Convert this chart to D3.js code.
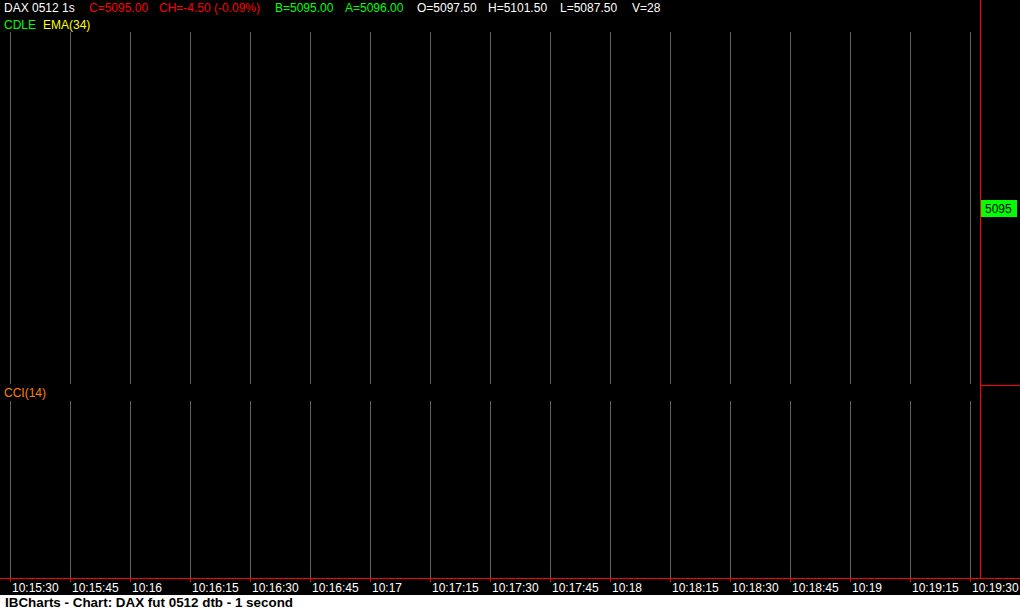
<!DOCTYPE html>
<html><head><meta charset="utf-8">
<script src="https://cdn.jsdelivr.net/npm/d3@7"></script>
<style>
html,body{margin:0;padding:0;background:#fff;}
svg{display:block;}
text{font-family:"Liberation Sans",Arial,sans-serif;}
</style></head>
<body>
<div id="chart"></div>
<script>
// ---- data ----
const tickTimes = ["10:15:30","10:15:45","10:16:00","10:16:15","10:16:30","10:16:45","10:17:00","10:17:15","10:17:30","10:17:45","10:18:00","10:18:15","10:18:30","10:18:45","10:19:00","10:19:15","10:19:30"];
const tickLabels = ["10:15:30","10:15:45","10:16","10:16:15","10:16:30","10:16:45","10:17","10:17:15","10:17:30","10:17:45","10:18","10:18:15","10:18:30","10:18:45","10:19","10:19:15","10:19:30"];
const headerTexts = ["DAX 0512 1s","C=5095.00","CH=-4.50 (-0.09%)","B=5095.00","A=5096.00","O=5097.50","H=5101.50","L=5087.50","V=28"];
const headerColors = ["#ffffff","#ff0000","#ff0000","#00ff00","#00ff00","#ffffff","#ffffff","#ffffff","#ffffff"];
const headerX = [4,89,159,275,345,417,488,560,632];
const lastPrice = 5095;
const priceDomain = [5075, 5115];
const footerText = "IBCharts - Chart: DAX fut 0512 dtb - 1 second";

// ---- layout ----
const W = 1020, H = 611;
const parse = d3.timeParse("%H:%M:%S");
const times = tickTimes.map(parse);
const x = d3.scaleTime().domain([times[0], times[times.length-1]]).range([10, 970]);
const yPrice = d3.scaleLinear().domain(priceDomain).range([383, 33]);
const axisX = 980, axisY = 578;

const svg = d3.select("#chart").append("svg").attr("width", W).attr("height", H);
svg.append("rect").attr("width", W).attr("height", 595).attr("fill", "#000");
svg.append("rect").attr("y", 595).attr("width", W).attr("height", 16).attr("fill", "#fff");

// grid lines (price panel & cci panel)
const grid = svg.append("g").attr("stroke", "#5f5f5f").attr("stroke-width", 1);
grid.selectAll("line.top").data(times).join("line").attr("class","top")
  .attr("x1", d => Math.round(x(d)) + 0.5).attr("x2", d => Math.round(x(d)) + 0.5)
  .attr("y1", 32).attr("y2", 384);
grid.selectAll("line.bot").data(times).join("line").attr("class","bot")
  .attr("x1", d => Math.round(x(d)) + 0.5).attr("x2", d => Math.round(x(d)) + 0.5)
  .attr("y1", 401).attr("y2", axisY);

// right axis & bottom axis lines
svg.append("line").attr("x1", axisX + 0.5).attr("x2", axisX + 0.5).attr("y1", 0).attr("y2", axisY + 1)
  .attr("stroke", "#ff0000");
svg.append("line").attr("x1", axisX).attr("x2", W).attr("y1", 385.5).attr("y2", 385.5)
  .attr("stroke", "#ff0000");
svg.append("line").attr("x1", 0).attr("x2", W).attr("y1", axisY + 0.5).attr("y2", axisY + 0.5)
  .attr("stroke", "#ff0000");

// bottom ticks
const tk = svg.append("g");
tk.selectAll("line").data(times).join("line")
  .attr("x1", d => Math.round(x(d)) + 0.5).attr("x2", d => Math.round(x(d)) + 0.5)
  .attr("y1", axisY).attr("y2", axisY + 4).attr("stroke", "#ff0000");
tk.selectAll("text").data(times).join("text")
  .attr("x", d => Math.round(x(d)) + 2).attr("y", 592)
  .attr("fill", "#fff").attr("font-size", "12px")
  .text((d, i) => tickLabels[i]);

// header
svg.append("g").selectAll("text").data(headerTexts).join("text")
  .attr("x", (d, i) => headerX[i]).attr("y", 12)
  .attr("fill", (d, i) => headerColors[i]).attr("font-size", "12px")
  .text(d => d);
svg.append("text").attr("x", 4).attr("y", 29).attr("fill", "#00ff00").attr("font-size", "12px").text("CDLE");
svg.append("text").attr("x", 43).attr("y", 29).attr("fill", "#ffff00").attr("font-size", "12px").text("EMA(34)");
svg.append("text").attr("x", 4).attr("y", 397).attr("fill", "#ff8000").attr("font-size", "12px").text("CCI(14)");

// last price label
const py = yPrice(lastPrice);
svg.append("rect").attr("x", axisX + 1).attr("y", Math.round(py) - 8).attr("width", 36).attr("height", 17)
  .attr("fill", "#00ff00");
svg.append("text").attr("x", axisX + 5).attr("y", Math.round(py) + 5).attr("fill", "#000")
  .attr("font-size", "12px").text(lastPrice);

// footer
svg.append("text").attr("x", 5).attr("y", 607).attr("fill", "#000")
  .attr("font-size", "12px").attr("font-weight", "bold")
  .attr("textLength", 288).attr("lengthAdjust", "spacingAndGlyphs")
  .text(footerText);
</script>
</body></html>
